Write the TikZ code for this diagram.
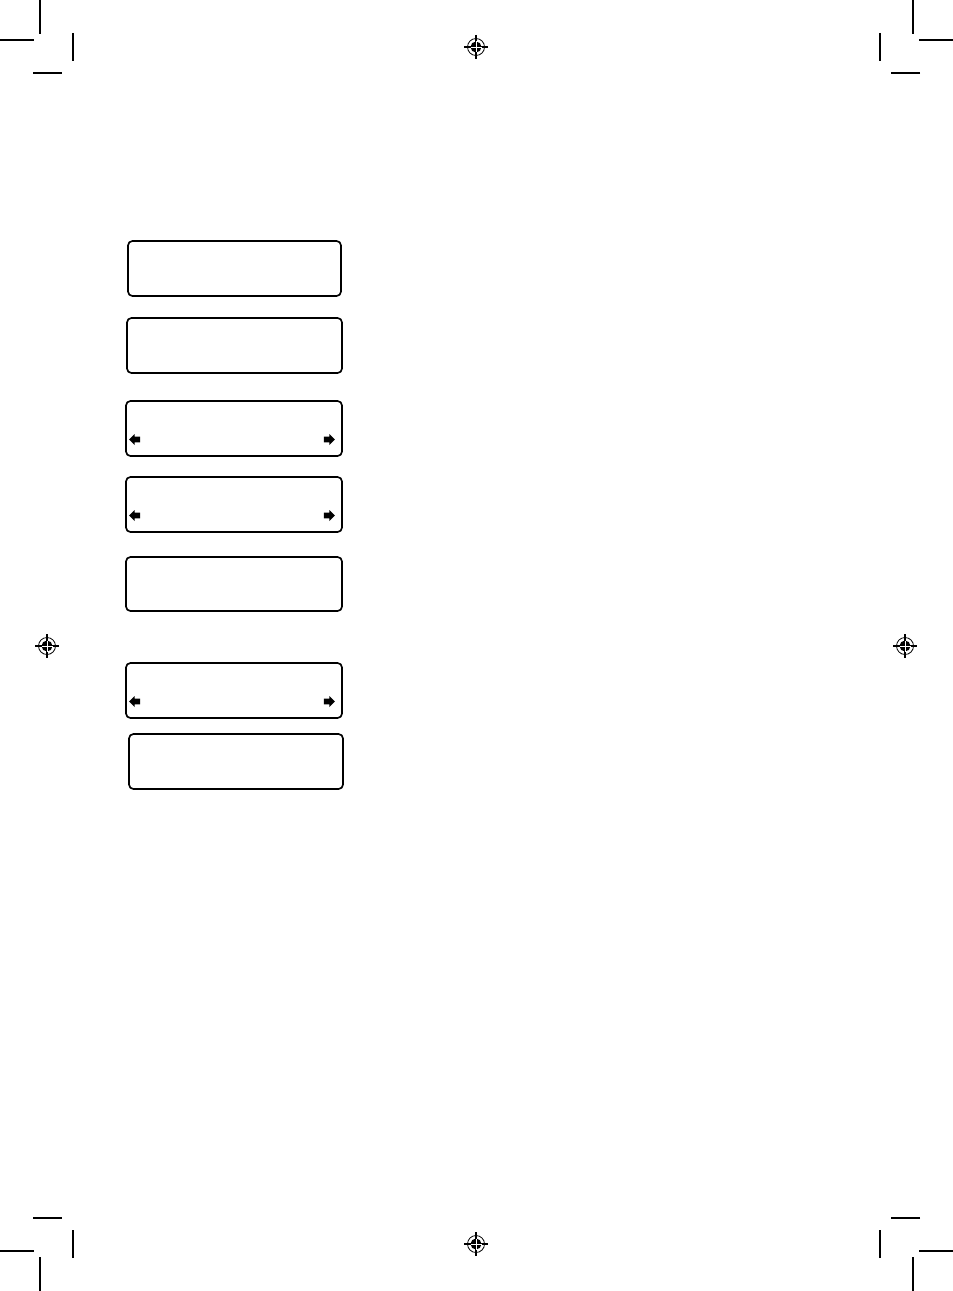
\documentclass[tikz,border=0pt]{standalone}
\usepackage{tikz}
\usetikzlibrary{positioning,calc}
\tikzset{
	lcd/.style={draw,line width=0.95pt,rounded corners=2.5pt,inner sep=0pt,
		minimum height=1.1cm,minimum width=4.3cm},
	lcdarrow/.pic={
		\fill (-5.5,-2.8) -- (0,-2.8) -- (0,-5.5) -- (5.5,0) -- (0,5.5)
			-- (0,2.8) -- (-5.5,2.8) -- cycle;
	},
	crop/.style={line width=0.6pt},
	regmark/.pic={
		\draw[line width=0.45pt] (0,0) circle (8.5);
		\fill (0,0) circle (5.5);
		\draw[line width=0.6pt] (-12,0) -- (12,0) (0,-12) -- (0,12);
		\draw[white,line width=0.5pt] (-5.5,0) -- (5.5,0) (0,-5.5) -- (0,5.5);
	}
}
\begin{document}
\begin{tikzpicture}[x=0.02cm,y=-0.02cm]
      \useasboundingbox (0,0) rectangle (953,1291);
      % crop marks
      \foreach \mx/\my in {1/1,-1/1,1/-1,-1/-1} {
        \begin{scope}[shift={(476.5,645.5)},xscale=\mx,yscale=\my,shift={(-476.5,-645.5)}]
          \draw[crop] (40,0) -- (40,34) (0,40) -- (34,40);
          \draw[crop] (73,33) -- (73,61) (33,73) -- (62,73);
        \end{scope}
      }
      % registration marks
      \pic at (476,47) {regmark};
      \pic at (47,646) {regmark};
      \pic at (905,646) {regmark};
      \pic at (476,1244) {regmark};
      % display boxes
      \node [lcd,minimum width=4.26cm] (d1) at (234.5,268.5) {};
      \node [lcd] (d2) at (234.5,345.5) {};
      \node [lcd,minimum width=4.32cm] (d3) at (234,428.5) {};
      \node [lcd,minimum width=4.32cm] (d4) at (234,504.5) {};
      \node [lcd,minimum width=4.32cm,minimum height=1.08cm] (d5) at (234,584) {};
      \node [lcd,minimum width=4.32cm] (d6) at (234,690.5) {};
      \node [lcd,minimum width=4.28cm] (d7) at (236,761.5) {};
      \foreach \d in {d3,d4,d6} {
        \pic [xscale=-1] (\d l) at ($(\d.west)+(9.5,11)$) {lcdarrow};
        \pic (\d r) at ($(\d.east)+(-13.5,11)$) {lcdarrow};
      }
   \end{tikzpicture}
\end{document}
